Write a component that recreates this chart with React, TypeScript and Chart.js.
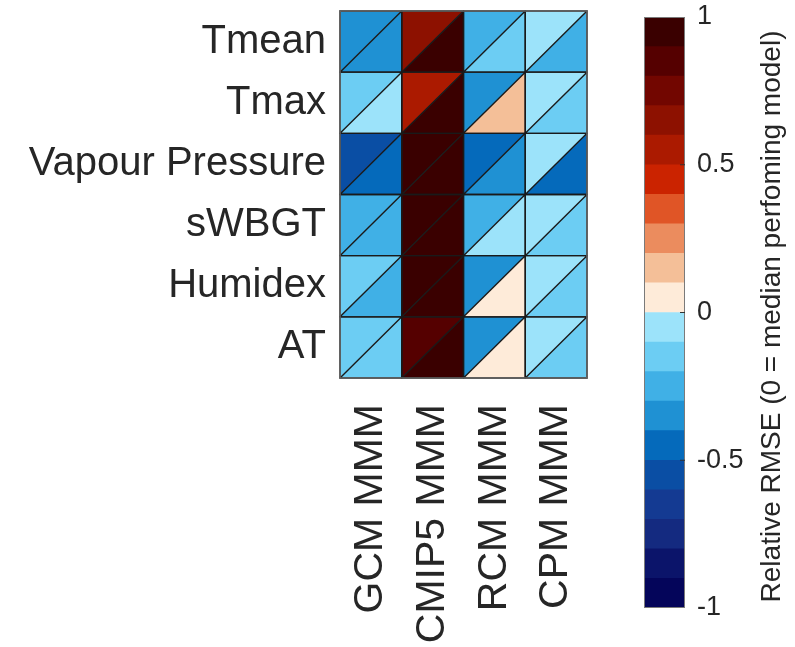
import React, { useEffect, useRef } from 'react';
import { Chart, registerables } from 'chart.js';

Chart.register(...registerables);

const rowLabels = ['Tmean', 'Tmax', 'Vapour Pressure', 'sWBGT', 'Humidex', 'AT'];
const colLabels = ['GCM MMM', 'CMIP5 MMM', 'RCM MMM', 'CPM MMM'];

// upper-left triangle of each cell
const upperValues = [
  [-0.35, 0.65, -0.25, -0.05],
  [-0.15, 0.55, -0.35, -0.05],
  [-0.55, 0.95, -0.45, -0.05],
  [-0.25, 0.95, -0.25, -0.05],
  [-0.15, 0.95, -0.35, -0.05],
  [-0.15, 0.85, -0.35, -0.05],
];
// lower-right triangle of each cell
const lowerValues = [
  [-0.35, 0.95, -0.15, -0.25],
  [-0.05, 0.95, 0.15, -0.15],
  [-0.45, 0.95, -0.35, -0.45],
  [-0.25, 0.95, -0.05, -0.15],
  [-0.25, 0.95, 0.05, -0.15],
  [-0.15, 0.95, 0.05, -0.15],
];

const levelEdges = [-1, -0.9, -0.8, -0.7, -0.6, -0.5, -0.4, -0.3, -0.2, -0.1, 0, 0.1, 0.2, 0.3, 0.4, 0.5, 0.6, 0.7, 0.8, 0.9, 1];
const levelColors = [
  '#04055a', '#0b146a', '#142a80', '#143a92', '#0a4ea4',
  '#056abb', '#1f91d3', '#40b0e6', '#6ccdf3', '#9ce3fa',
  '#feebd9', '#f4bf98', '#eb8c5e', '#e05526', '#cb2300',
  '#ab1a00', '#8d1100', '#720600', '#550000', '#3a0000',
];
const cbTicks = [-1, -0.5, 0, 0.5, 1];
const cbTickLabels = ['-1', '-0.5', '0', '0.5', '1'];
const cbTitle = 'Relative RMSE (0 = median perfoming model)';

const FONT = "'Liberation Sans', Arial, Helvetica, sans-serif";
const TEXT = '#262626';

function colorFor(v: number): string {
  for (let k = 0; k < levelColors.length; k++) {
    if (v >= levelEdges[k] && v < levelEdges[k + 1]) return levelColors[k];
  }
  return v < levelEdges[0] ? levelColors[0] : levelColors[levelColors.length - 1];
}

function noPad(s: any) {
  s.paddingLeft = 0;
  s.paddingRight = 0;
  s.paddingTop = 0;
  s.paddingBottom = 0;
}

const cellPlugin = {
  id: 'cells',
  afterDatasetsDraw(chart: any) {
    const { ctx, chartArea } = chart;
    const x = chart.scales.x;
    const y = chart.scales.y;
    const hw = Math.abs(x.getPixelForValue(1) - x.getPixelForValue(0)) / 2;
    const hh = Math.abs(y.getPixelForValue(1) - y.getPixelForValue(0)) / 2;
    ctx.save();
    rowLabels.forEach((_, r) => {
      colLabels.forEach((__, c) => {
        const cx = x.getPixelForValue(c);
        const cy = y.getPixelForValue(r);
        const l = cx - hw, rt = cx + hw, t = cy - hh, b = cy + hh;
        ctx.fillStyle = colorFor(upperValues[r][c]);
        ctx.beginPath();
        ctx.moveTo(l, t); ctx.lineTo(rt, t); ctx.lineTo(l, b); ctx.closePath();
        ctx.fill();
        ctx.fillStyle = colorFor(lowerValues[r][c]);
        ctx.beginPath();
        ctx.moveTo(rt, t); ctx.lineTo(rt, b); ctx.lineTo(l, b); ctx.closePath();
        ctx.fill();
      });
    });
    ctx.strokeStyle = '#1a1a1a';
    ctx.lineWidth = 1.4;
    rowLabels.forEach((_, r) => {
      colLabels.forEach((__, c) => {
        const cx = x.getPixelForValue(c);
        const cy = y.getPixelForValue(r);
        const l = cx - hw, rt = cx + hw, t = cy - hh, b = cy + hh;
        ctx.beginPath();
        ctx.rect(l, t, rt - l, b - t);
        ctx.moveTo(l, b); ctx.lineTo(rt, t);
        ctx.stroke();
      });
    });
    ctx.strokeStyle = '#666';
    ctx.lineWidth = 1.5;
    ctx.strokeRect(chartArea.left, chartArea.top, chartArea.right - chartArea.left, chartArea.bottom - chartArea.top);
    ctx.restore();
  },
};

const colorbarPlugin = {
  id: 'cbdeco',
  afterDraw(chart: any) {
    const { ctx, chartArea } = chart;
    const y = chart.scales.y;
    ctx.save();
    ctx.strokeStyle = '#7a7a7a';
    ctx.lineWidth = 1;
    ctx.strokeRect(chartArea.left + 0.5, chartArea.top + 0.5, chartArea.right - chartArea.left - 1, chartArea.bottom - chartArea.top - 1);
    ctx.strokeStyle = '#333';
    cbTicks.forEach((v) => {
      if (v === -1 || v === 1) return;
      const py = y.getPixelForValue(v);
      ctx.beginPath();
      ctx.moveTo(chartArea.right - 5, py);
      ctx.lineTo(chartArea.right, py);
      ctx.stroke();
    });
    ctx.translate(y.right - 23, (chartArea.top + chartArea.bottom) / 2 + 4);
    ctx.rotate(-Math.PI / 2);
    ctx.fillStyle = TEXT;
    ctx.font = `28px ${FONT}`;
    ctx.textAlign = 'center';
    ctx.textBaseline = 'middle';
    ctx.fillText(cbTitle, 0, 0);
    ctx.restore();
  },
};

export default function App() {
  const mainRef = useRef<HTMLCanvasElement>(null);
  const cbRef = useRef<HTMLCanvasElement>(null);

  useEffect(() => {
    const main = new Chart(mainRef.current as HTMLCanvasElement, {
      type: 'scatter',
      data: { datasets: [{ data: [] }] },
      options: {
        animation: false,
        responsive: false,
        maintainAspectRatio: false,
        layout: { padding: { top: 11, right: 13, left: 0, bottom: 0 } },
        plugins: { legend: { display: false }, tooltip: { enabled: false } },
        scales: {
          x: {
            type: 'category',
            labels: colLabels,
            offset: true,
            grid: { display: false },
            border: { display: false },
            ticks: {
              autoSkip: false,
              maxRotation: 90,
              minRotation: 90,
              padding: 18,
              color: TEXT,
              font: { family: FONT, size: 41 },
            },
            afterFit: (s: any) => { s.height = 269; noPad(s); },
          },
          y: {
            type: 'category',
            labels: rowLabels,
            offset: true,
            grid: { display: false },
            border: { display: false },
            ticks: {
              autoSkip: false,
              padding: 6,
              color: TEXT,
              font: { family: FONT, size: 40 },
            },
            afterFit: (s: any) => { s.width = 340; noPad(s); },
          },
        },
      } as any,
      plugins: [cellPlugin],
    });

    const cb = new Chart(cbRef.current as HTMLCanvasElement, {
      type: 'bar',
      data: {
        labels: [''],
        datasets: levelColors.map((col, k) => ({
          data: [[levelEdges[k], levelEdges[k + 1]]],
          backgroundColor: col,
          borderWidth: 0,
          grouped: false,
          barPercentage: 1,
          categoryPercentage: 1,
        })),
      } as any,
      options: {
        animation: false,
        responsive: false,
        maintainAspectRatio: false,
        layout: { padding: { top: 17, left: 44, right: 0, bottom: 39 } },
        plugins: { legend: { display: false }, tooltip: { enabled: false } },
        scales: {
          x: { display: false },
          y: {
            position: 'right',
            min: -1,
            max: 1,
            grid: { display: false },
            border: { display: false },
            afterBuildTicks: (s: any) => { s.ticks = cbTicks.map((v) => ({ value: v })); },
            ticks: {
              padding: 4,
              color: TEXT,
              font: { family: FONT, size: 27 },
              callback: (_v: any, i: number) => cbTickLabels[i],
            },
            afterFit: (s: any) => { s.width = 110; noPad(s); },
          },
        },
      } as any,
      plugins: [colorbarPlugin],
    });

    return () => { main.destroy(); cb.destroy(); };
  }, []);

  return (
    <div style={{ position: 'absolute', left: 0, top: 0, width: 795, height: 647, background: '#fff' }}>
      <canvas ref={mainRef} width={600} height={647} style={{ position: 'absolute', left: 0, top: 0 }} />
      <canvas ref={cbRef} width={195} height={647} style={{ position: 'absolute', left: 600, top: 0 }} />
    </div>
  );
}
